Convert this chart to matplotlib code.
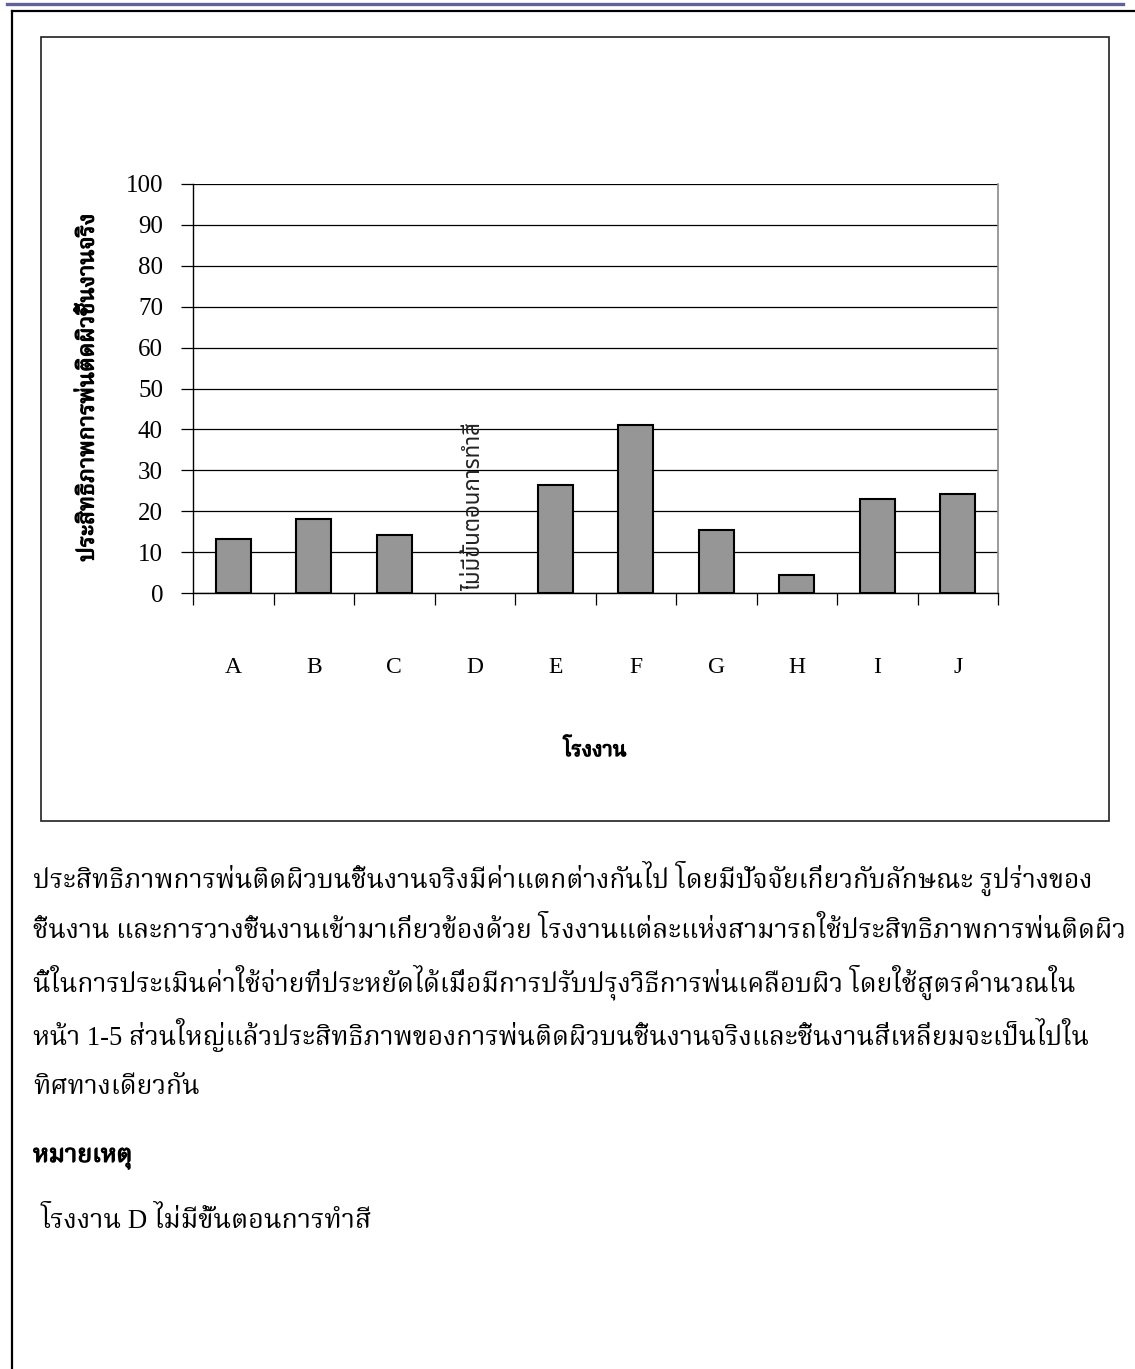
import logging
import matplotlib
matplotlib.use('Agg')
import matplotlib.pyplot as plt
import matplotlib.patheffects as pe
from matplotlib.lines import Line2D
from matplotlib.patches import Rectangle

logging.getLogger('matplotlib.font_manager').setLevel(logging.ERROR)

# data: painting transfer efficiency on real parts, per plant (D has no painting step)
plants = ['A', 'B', 'C', 'D', 'E', 'F', 'G', 'H', 'I', 'J']
efficiency = [13.3, 18.2, 14.1, None, 26.5, 41.0, 15.5, 4.5, 23.0, 24.2]
y_ticks = [0, 10, 20, 30, 40, 50, 60, 70, 80, 90, 100]

y_title = 'ประสิทธิภาพการพ่นติดผิวชิ้นงานจริง'
x_title = 'โรงงาน'
no_paint_label = 'ไม่มีขั้นตอนการทำสี'
body_lines = [
    'ประสิทธิภาพการพ่นติดผิวบนชิ้นงานจริงมีค่าแตกต่างกันไป โดยมีปัจจัยเกี่ยวกับลักษณะ รูปร่างของ',
    'ชิ้นงาน และการวางชิ้นงานเข้ามาเกี่ยวข้องด้วย โรงงานแต่ละแห่งสามารถใช้ประสิทธิภาพการพ่นติดผิว',
    'นี้ในการประเมินค่าใช้จ่ายที่ประหยัดได้เมื่อมีการปรับปรุงวิธีการพ่นเคลือบผิว โดยใช้สูตรคำนวณใน',
    'หน้า 1-5 ส่วนใหญ่แล้วประสิทธิภาพของการพ่นติดผิวบนชิ้นงานจริงและชิ้นงานสี่เหลี่ยมจะเป็นไปใน',
    'ทิศทางเดียวกัน',
]
note_title = 'หมายเหตุ'
note_text = 'โรงงาน D ไม่มีขั้นตอนการทำสี'

# fonts
SERIF = ['Liberation Serif', 'Noto Serif Thai', 'Noto Sans Thai', 'Noto Sans Thai Looped',
         'Norasi', 'Loma', 'Garuda', 'DejaVu Sans']
SANS = ['Noto Sans Thai', 'Noto Sans Thai Looped', 'Loma', 'Garuda', 'Noto Serif Thai',
        'Liberation Sans', 'DejaVu Sans']
plt.rcParams['font.family'] = SERIF

# thicken strokes for headings (the Thai face has no bold cut)
BOLD = [pe.withStroke(linewidth=0.9, foreground='black')]

W, H = 1135, 1369
fig = plt.figure(figsize=(W / 100, H / 100), dpi=100)


def fx(px):
    return px / W


def fy(py):
    return 1 - py / H


# page decoration
fig.add_artist(Line2D([fx(7), fx(1123)], [fy(3.5), fy(3.5)], lw=2.4, color='#62629a'))
fig.add_artist(Line2D([fx(12), fx(1135)], [fy(10.5), fy(10.5)], lw=1.6, color='black'))
fig.add_artist(Line2D([fx(12), fx(12)], [fy(10.5), fy(1369)], lw=1.6, color='black'))
fig.add_artist(Rectangle((fx(41), fy(821)), fx(1109) - fx(41), fy(37) - fy(821),
                         transform=fig.transFigure, fill=False, lw=1.2, edgecolor='#202020'))

# chart
ax = fig.add_axes([fx(193), fy(593), fx(998) - fx(193), fy(184) - fy(593)])
xs = list(range(len(plants)))
for x, v in zip(xs, efficiency):
    if v is None:
        continue
    ax.bar(x, v, width=0.43, color='#969696', edgecolor='black', linewidth=1.5, zorder=3)

ax.set_xlim(-0.5, len(plants) - 0.5)
ax.set_ylim(0, 100)
ax.set_yticks(y_ticks)
ax.set_yticklabels([str(t) for t in y_ticks], fontsize=18)
ax.yaxis.grid(True, color='black', lw=0.9)
ax.set_axisbelow(True)
ax.tick_params(axis='y', direction='out', length=8.6, width=0.9, pad=13)

ax.set_xticks(xs)
ax.set_xticklabels(plants, fontsize=17)
ax.set_xticks([x - 0.5 for x in xs] + [len(plants) - 0.5], minor=True)
ax.tick_params(axis='x', which='major', length=0, pad=46)
ax.tick_params(axis='x', which='minor', direction='out', length=8.6, width=0.9)

ax.spines['top'].set_visible(False)
ax.spines['right'].set_color('#8a8a8a')
ax.spines['right'].set_linewidth(1.2)
ax.spines['left'].set_linewidth(1.0)
ax.spines['bottom'].set_linewidth(1.0)

ax.text(3, 0.6, no_paint_label, rotation=90, ha='center', va='bottom',
        fontsize=16, family=SANS, color='#222222')

fig.text(fx(88), fy(388), y_title, rotation=90, ha='center', va='center',
         fontsize=16.5, path_effects=BOLD)
fig.text(fx(595), fy(750), x_title, ha='center', va='center',
         fontsize=15, path_effects=BOLD)

# text below the chart
line_y = [878, 930, 982, 1035, 1087]
for y, line in zip(line_y, body_lines):
    fig.text(fx(33), fy(y), line, ha='left', va='center', fontsize=19.1)

fig.text(fx(33), fy(1158), note_title, ha='left', va='center', fontsize=18,
         path_effects=BOLD)
fig.text(fx(40), fy(1220), note_text, ha='left', va='center', fontsize=19.3)

fig.savefig('out.png', dpi=100, facecolor='white')
